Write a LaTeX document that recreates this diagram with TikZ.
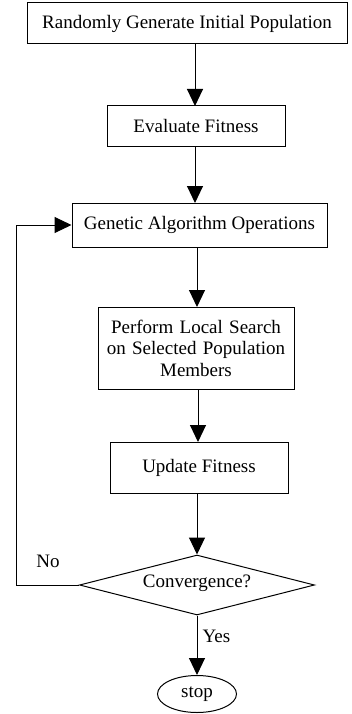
\documentclass[tikz,border=0pt]{standalone}
\usepackage{fontspec}
\setmainfont{Liberation Serif}
\usetikzlibrary{arrows.meta,shapes.geometric}
\begin{document}
\begin{tikzpicture}[x=1pt,y=-1pt,
  every node/.style={font=\fontsize{19}{21.5}\selectfont, inner sep=0pt},
  boxnode/.style={draw, line width=1pt, rectangle, align=center},
  conn/.style={line width=1pt, -{Triangle[width=16pt,length=17pt]}},
  plain/.style={line width=1pt}]
\useasboundingbox (0,0) rectangle (352,714);
\node[boxnode, minimum width=320pt, minimum height=41pt] (init) at (187,23.5) {Randomly Generate Initial Population};
\node[boxnode, minimum width=178pt, minimum height=41pt] (eval) at (196,126.5) {Evaluate Fitness};
\node[boxnode, minimum width=255pt, minimum height=44pt] (ga) at (199.5,225) {Genetic Algorithm Operations};
\node[boxnode, minimum width=196pt, minimum height=82pt, text width=194pt] (ls) at (196,348) {Perform Local Search\\on Selected Population\\Members};
\node[boxnode, minimum width=178pt, minimum height=51pt] (upd) at (199,467.5) {Update Fitness};
\node[diamond, draw, line width=1pt, minimum width=235pt, minimum height=60pt, inner sep=0pt] (conv) at (197,585) {};
\node at (197,583) {Convergence?};
\node[ellipse, draw, line width=1pt, minimum width=79pt, minimum height=37pt] (stop) at (197,694) {stop};
\coordinate (c1) at (16,585);
\coordinate (c2) at (16,225);
\draw[conn] (195,44) -- (195,106);
\draw[conn] (195,147) -- (195,203);
\draw[conn] (197,247) -- (197,307);
\draw[conn] (198,389) -- (198,442);
\draw[conn] (197,493) -- (conv.north);
\draw[plain] (conv.west) -- (c1) -- (c2);
\draw[conn] (c2) -- (ga.west);
\draw[conn] (conv.south) -- (stop.north) node[pos=0.35, right=5pt] {Yes};
\node at (48,561) {No};
\end{tikzpicture}
\end{document}
